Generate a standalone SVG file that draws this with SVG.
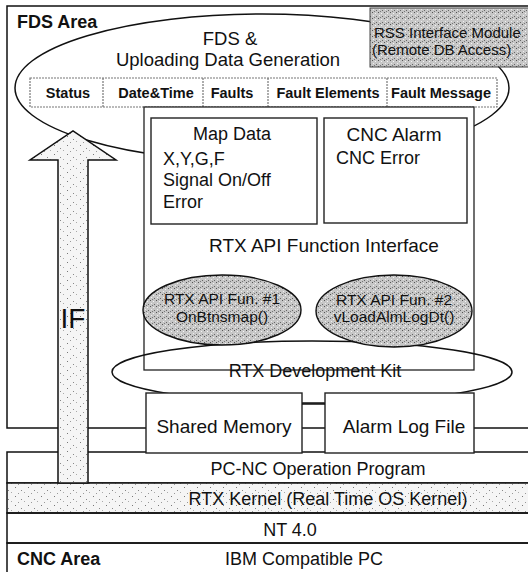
<svg xmlns="http://www.w3.org/2000/svg" width="528" height="572" viewBox="0 0 528 572">
<style>
  text { font-family: "Liberation Sans", Arial, sans-serif; fill: #111; }
  .big { font-size: 19px; }
  .mid { font-size: 18px; }
  .sm { font-size: 15.5px; }
  .bold { font-weight: bold; }
  .cell { font-size: 14.5px; font-weight: bold; }
  .ln { fill: none; stroke: #111; stroke-width: 1.5; }
  .wbox { fill: #fff; stroke: #222; stroke-width: 1.4; }
  .tbl { fill: #fff; stroke: #777; stroke-width: 1.2; stroke-dasharray: 2 1; }
  .sep { stroke: #777; stroke-width: 1.2; stroke-dasharray: 2 1; }
  .mid-anchor { text-anchor: middle; }
</style>
<defs>
  <pattern id="dense" width="6" height="6" patternUnits="userSpaceOnUse">
    <rect width="6" height="6" fill="#c6c6c6"/>
    <rect x="0" y="0" width="1" height="1" fill="#555"/>
    <rect x="3" y="1" width="1" height="1" fill="#f4f4f4"/>
    <rect x="4" y="4" width="1" height="1" fill="#666"/>
    <rect x="1" y="3" width="1" height="1" fill="#eee"/>
    <rect x="2" y="5" width="1" height="1" fill="#777"/>
  </pattern>
  <pattern id="sparse" width="13" height="9" patternUnits="userSpaceOnUse">
    <rect width="13" height="9" fill="#f5f5f5"/>
    <rect x="2" y="1" width="1" height="1" fill="#777"/>
    <rect x="8" y="4" width="1" height="1" fill="#888"/>
    <rect x="5" y="7" width="1" height="1" fill="#999"/>
    <rect x="11" y="6" width="1" height="1" fill="#aaa"/>
  </pattern>
</defs>

<!-- CNC side layered bands -->
<g id="pc-nc-operation-program">
  <rect x="7" y="452" width="530" height="31" class="ln" fill="#fff"/>
  <text x="318" y="475" class="mid mid-anchor">PC-NC Operation Program</text>
</g>
<g id="rtx-kernel">
  <rect x="7" y="483" width="530" height="30" fill="url(#sparse)" stroke="#111" stroke-width="1.5"/>
  <text x="328" y="505" class="mid mid-anchor">RTX Kernel (Real Time OS Kernel)</text>
</g>
<g id="nt40">
  <rect x="7" y="513" width="530" height="30" class="ln" fill="#fff"/>
  <text x="290" y="536" class="mid mid-anchor">NT 4.0</text>
</g>
<g id="cnc-area">
  <rect x="7" y="543" width="530" height="40" class="ln" fill="#fff"/>
  <text x="17" y="565" class="mid bold">CNC Area</text>
  <text x="304" y="565" class="mid mid-anchor">IBM Compatible PC</text>
</g>

<!-- FDS area frame -->
<g id="fds-area">
  <rect x="7" y="6" width="530" height="422" class="ln"/>
  <text x="17" y="28" class="mid bold">FDS Area</text>
</g>

<g id="fds-data-generation">
  <ellipse cx="262" cy="88" rx="247" ry="74" class="ln" fill="#fff"/>
  <text x="230" y="45" class="mid-anchor" style="font-size:18.5px">FDS &amp;</text>
  <text x="228" y="66" class="mid-anchor" style="font-size:18.5px">Uploading Data Generation</text>
</g>

<g id="rss-interface-module">
  <rect x="370" y="8" width="170" height="59" fill="url(#dense)" stroke="#444" stroke-width="1"/>
  <text x="374" y="38" style="font-size:15px">RSS Interface Module</text>
  <text x="372" y="55" style="font-size:15px">(Remote DB Access)</text>
</g>

<g id="upload-table">
  <rect x="30" y="78" width="467" height="29" class="tbl"/>
  <line x1="103" y1="78" x2="103" y2="107" class="sep"/>
  <line x1="203" y1="78" x2="203" y2="107" class="sep"/>
  <line x1="268" y1="78" x2="268" y2="107" class="sep"/>
  <line x1="387" y1="78" x2="387" y2="107" class="sep"/>
  <text x="68" y="98" class="cell mid-anchor">Status</text>
  <text x="156" y="98" class="cell mid-anchor">Date&amp;Time</text>
  <text x="232" y="98" class="cell mid-anchor">Faults</text>
  <text x="328" y="98" class="cell mid-anchor">Fault Elements</text>
  <text x="441" y="98" class="cell mid-anchor">Fault Message</text>
</g>

<g id="rtx-api-function-interface">
  <rect x="144" y="107" width="330" height="263" fill="#fff" stroke="#222" stroke-width="1.3"/>
  <text x="324" y="252" class="big mid-anchor">RTX API Function Interface</text>
</g>

<g id="map-data">
  <rect x="151" y="118" width="166" height="106" class="wbox"/>
  <text x="232" y="140" class="mid mid-anchor">Map Data</text>
  <text x="163" y="165" class="mid">X,Y,G,F</text>
  <text x="163" y="186" class="mid">Signal On/Off</text>
  <text x="163" y="208" class="mid">Error</text>
</g>

<g id="cnc-alarm">
  <rect x="324" y="118" width="143" height="105" class="wbox"/>
  <text x="394" y="141" class="big mid-anchor">CNC Alarm</text>
  <text x="336" y="164" class="mid">CNC Error</text>
</g>

<g id="rtx-development-kit">
  <ellipse cx="312" cy="372" rx="200" ry="31" class="ln" fill="#fff"/>
  <text x="315" y="377" class="mid mid-anchor">RTX Development Kit</text>
</g>

<g id="rtx-api-fun-1">
  <ellipse cx="222" cy="310" rx="79" ry="35" fill="url(#dense)" stroke="#111" stroke-width="1.4"/>
  <text x="222" y="304" class="sm mid-anchor">RTX API Fun. #1</text>
  <text x="222" y="322" class="sm mid-anchor">OnBtnsmap()</text>
</g>

<g id="rtx-api-fun-2">
  <ellipse cx="394" cy="311" rx="78" ry="36" fill="url(#dense)" stroke="#111" stroke-width="1.4"/>
  <text x="394" y="305" class="sm mid-anchor">RTX API Fun. #2</text>
  <text x="394" y="322" class="sm mid-anchor">vLoadAlmLogDt()</text>
</g>

<g id="shared-memory">
  <rect x="146" y="393" width="156" height="60" class="wbox"/>
  <text x="224" y="433" class="big mid-anchor">Shared Memory</text>
</g>

<g id="alarm-log-file">
  <rect x="325" y="393" width="149" height="60" class="wbox"/>
  <text x="404" y="433" class="big mid-anchor">Alarm Log File</text>
</g>

<g id="connectors">
  <line x1="302" y1="404" x2="325" y2="404" class="ln" stroke-width="1.3"/>
</g>

<g id="if-arrow">
  <path d="M58,483 L58,160 L30,160 L73,131 L116,160 L88,160 L88,483 Z" fill="url(#sparse)" stroke="#111" stroke-width="1.5"/>
  <text x="73" y="328" class="mid-anchor" style="font-size:28px">IF</text>
</g>
</svg>
